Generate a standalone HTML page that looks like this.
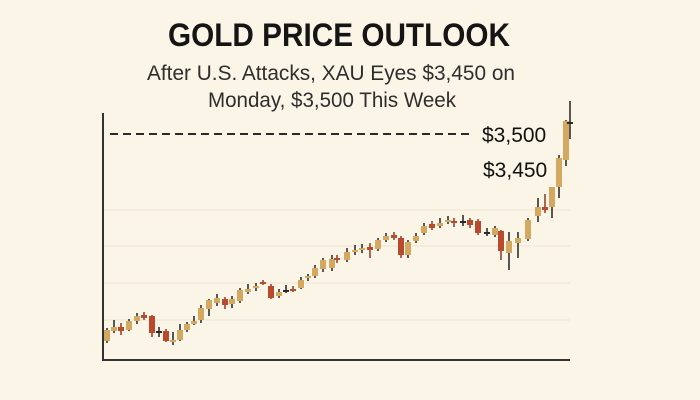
<!DOCTYPE html>
<html><head><meta charset="utf-8"><style>
html,body{margin:0;padding:0;background:#fbf5e7;}
svg{display:block;}
</style></head><body>
<svg id="s" width="700" height="400" xmlns="http://www.w3.org/2000/svg" font-family="Liberation Sans, sans-serif">
<rect width="700" height="400" fill="#fbf5e7"/>
<text x="339" y="46" text-anchor="middle" font-size="32" font-weight="bold" fill="#151515" textLength="342" lengthAdjust="spacingAndGlyphs">GOLD PRICE OUTLOOK</text>
<text x="331" y="80" text-anchor="middle" font-size="21" fill="#2e2e2e" textLength="368" lengthAdjust="spacingAndGlyphs">After U.S. Attacks, XAU Eyes $3,450 on</text>
<text x="332" y="107" text-anchor="middle" font-size="21" fill="#2e2e2e" textLength="248" lengthAdjust="spacingAndGlyphs">Monday, $3,500 This Week</text>
<g stroke="#ece4d2" stroke-width="1">
<line x1="104" y1="210" x2="570" y2="210"/><line x1="104" y1="246" x2="570" y2="246"/>
<line x1="104" y1="283" x2="570" y2="283"/><line x1="104" y1="320" x2="570" y2="320"/>
</g>
<line x1="103" y1="113" x2="103" y2="361" stroke="#333" stroke-width="2"/>
<line x1="102" y1="360" x2="570" y2="360" stroke="#333" stroke-width="2"/>
<line x1="110" y1="134" x2="470" y2="134" stroke="#2a2a2a" stroke-width="2" stroke-dasharray="8,5"/>
<text x="482" y="142" font-size="21" fill="#111">$3,500</text>
<text x="483" y="177" font-size="21" fill="#111">$3,450</text>
<g id="c"></g>
</svg>
<script>
var d=[
[107,330,341,'g',328,343],[114,327,331,'g',320,333],[121,327,331,'r',323,335],[129,321,330,'g',319,331],
[137,316,321,'g',313,324],[144,315,318,'r',312,320],[152,316,333,'r',315,337],[159,331,333,'k',327,337],
[166,331,341,'r',329,342],[173,340,342,'g',332,345],[180,330,340,'g',324,341],[187,324,330,'g',322,332],
[194,321,324,'g',316,325],[201,308,320,'g',305,323],[209,300,309,'g',299,316],[217,298,303,'g',294,306],
[225,299,305,'r',297,309],[232,299,304,'g',296,308],[240,290,301,'g',288,303],[248,289,292,'g',284,294],
[256,286,288,'g',283,291],[263,282,284,'r',280,285],[271,286,298,'r',284,299],[279,292,296,'g',289,298],
[286,290,292,'k',285,293],[293,289,290,'r',286,292],[301,280,288,'g',277,289],[308,276,278,'g',274,281],
[315,268,276,'g',265,278],[323,260,269,'g',258,272],[332,259,268,'g',255,271],[337,258,260,'r',255,263],
[347,252,260,'g',248,262],[355,250,252,'g',245,255],[362,248,250,'g',244,253],[370,247,250,'r',243,258],
[378,240,249,'g',238,251],[386,236,240,'g',233,242],[394,235,238,'r',232,240],[401,238,255,'r',236,258],
[408,242,255,'g',240,258],[416,236,241,'g',233,243],[424,226,233,'g',223,235],[432,224,228,'r',221,230],
[440,223,226,'g',218,228],[448,220,222,'g',216,224],[454,221,223,'r',218,227],[463,221,222,'k',215,226],
[470,220,225,'r',218,228],[478,221,233,'r',219,235],[487,232,233,'k',228,236],[495,228,235,'g',226,237],
[501,231,251,'r',230,260],[509,241,253,'g',232,270],[518,238,243,'g',232,258],[528,220,239,'g',218,241],
[538,207,216,'g',198,222],[545,207,210,'r',194,213],[552,187,207,'g',187,218],[559,158,187,'g',155,198],
[566,121,160,'g',120,166],[570,122,123,'k',101,139]];
var col={g:'#d5a862',r:'#b94a2e',k:'#2a2a2a'};
var h='';
d.forEach(function(c){var f=col[c[3]];var wc=c[3]=='r'?'#8a3a25':'#222';
h+='<line x1="'+c[0]+'" y1="'+c[4]+'" x2="'+c[0]+'" y2="'+c[5]+'" stroke="'+wc+'" stroke-width="1.5"/>';
var bh=Math.max(c[2]-c[1],2);
h+='<rect x="'+(c[0]-3)+'" y="'+c[1]+'" width="6" height="'+bh+'" fill="'+f+'"/>';});
document.getElementById('c').innerHTML=h;
</script>
</body></html>
